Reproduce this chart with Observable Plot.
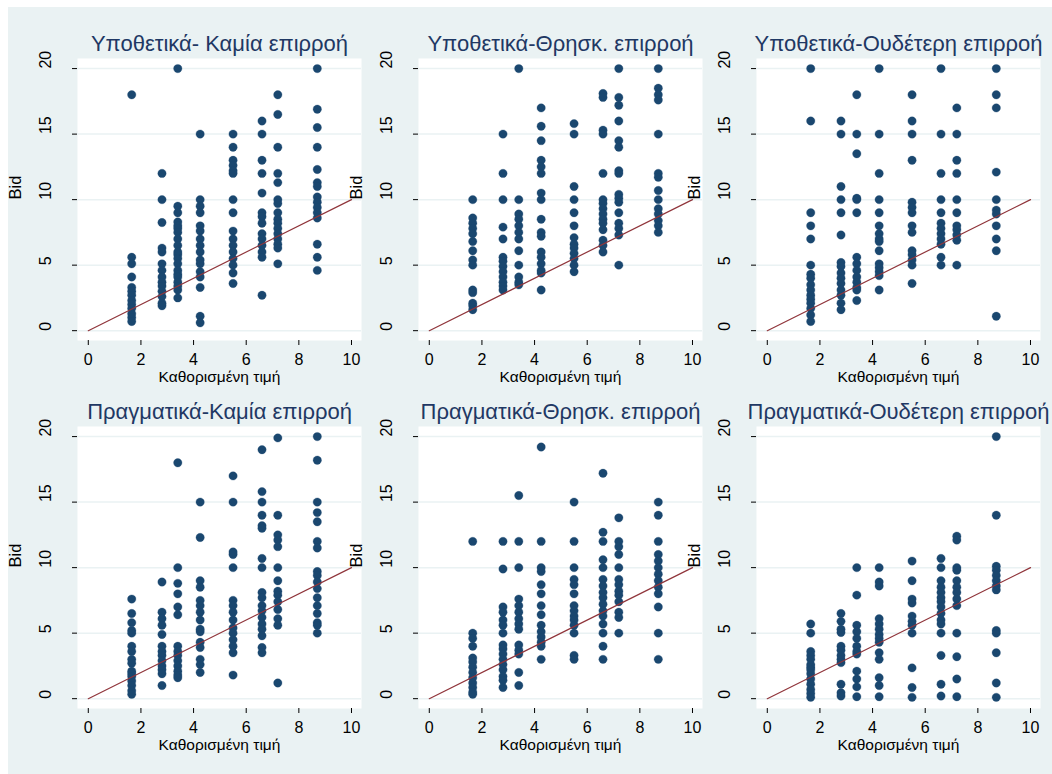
<!DOCTYPE html>
<html>
<head>
<meta charset="utf-8">
<script src="https://cdn.jsdelivr.net/npm/d3@7"></script>
<script src="https://cdn.jsdelivr.net/npm/@observablehq/plot@0.6"></script>
<style>
  html, body { margin: 0; padding: 0; background: #ffffff; }
  #page { position: relative; width: 1052px; height: 774px; overflow: hidden; }
  #bg { position: absolute; left: 8px; top: 7px; width: 1044px; height: 767px; background: #EAF2F3; }
  .panel { position: absolute; }
</style>
</head>
<body>
<div id="page"><div id="bg"></div></div>
<script>
// ---- Data ----
const xValues = [1.65, 2.8, 3.4, 4.25, 5.5, 6.6, 7.2, 8.7];
const xTicks = [0, 2, 4, 6, 8, 10];
const yTicks = [0, 5, 10, 15, 20];
const refLine = [0, 10];
const xTitle = "Καθορισμένη τιμή";
const yTitle = "Bid";
const panelTitles = [
  "Υποθετικά- Καμία επιρροή",
  "Υποθετικά-Θρησκ. επιρροή",
  "Υποθετικά-Ουδέτερη επιρροή",
  "Πραγματικά-Καμία επιρροή",
  "Πραγματικά-Θρησκ. επιρροή",
  "Πραγματικά-Ουδέτερη επιρροή"
];

// bids per x value (one inner list per x in xValues)
const hypNone = [
  [18, 5.6, 5.1, 4.1, 3.3, 3.0, 2.7, 2.3, 2.0, 1.7, 1.3, 1.0, 0.7],
  [12, 10, 8.25, 6.3, 6.0, 5.1, 4.6, 4.1, 3.7, 3.4, 3.0, 2.6, 2.1, 1.9],
  [20, 9.5, 9, 8.3, 8, 7.8, 7.5, 7, 6.5, 6, 5.8, 5.5, 5.1, 4.6, 4.3, 4.1, 3.7, 3.4, 3.1, 2.5],
  [15, 10, 9.5, 9, 8, 7.6, 7, 6.5, 6, 5.4, 5.1, 4.5, 4.1, 3.3, 1.1, 0.6],
  [15, 14, 13, 12.6, 12.2, 12, 10, 9, 7.6, 7, 6.5, 6, 5.5, 5.0, 4.4, 3.6],
  [16, 15, 13, 12, 10.5, 9, 8.7, 8.2, 7.4, 7, 6.5, 6, 5.6, 2.7],
  [18, 16.5, 14, 12, 11.3, 10, 9.7, 9, 8.5, 8.2, 7.8, 7.4, 7, 6.6, 6.3, 5.1],
  [20, 16.9, 15.5, 14, 12.3, 11.3, 11, 10.2, 9.8, 9.4, 9, 8.6, 6.6, 5.6, 4.6]
];
const hypRel = [
  [10, 8.6, 8.2, 7.8, 7.4, 6.8, 6.1, 5.4, 5.0, 3.1, 2.9, 2.1, 1.9, 1.6],
  [15, 12, 10, 7.9, 7.0, 5.6, 5.3, 4.9, 4.5, 4.1, 3.7, 3.4, 3.1],
  [20, 10, 8.9, 8.5, 8.0, 7.5, 7.0, 6.1, 5.0, 4.1, 3.7, 3.5],
  [17, 15.6, 14.5, 13, 12.5, 12, 10.5, 10, 8.5, 7.5, 7.2, 6.0, 5.6, 5.1, 4.6, 4.4, 3.1],
  [15.8, 15, 11, 10, 9, 8, 7.1, 6.6, 6.3, 5.9, 5.5, 5.0, 4.5],
  [18.1, 17.8, 15.3, 15, 12, 10, 9.7, 9.3, 8.9, 8.5, 8.2, 7.7, 6.9, 6.5, 6.0],
  [20, 17.8, 17.2, 16, 14.5, 14, 12.2, 12, 10.4, 10.1, 9.8, 9, 8.2, 7.8, 7.3, 5.0],
  [20, 18.5, 18, 17.6, 15, 12, 11.7, 10.7, 10, 9.3, 8.9, 8.4, 8.0, 7.5]
];
const hypNeu = [
  [20, 16, 9, 8, 7, 5, 4.3, 4.0, 3.5, 3.1, 2.7, 2.4, 2.1, 1.7, 1.2, 0.7],
  [16, 15, 11, 10, 9, 7.3, 5.2, 4.9, 4.4, 4.0, 3.6, 3.1, 2.7, 2.1, 1.6],
  [18, 15, 13.5, 10.1, 10, 9, 5.6, 5.1, 4.6, 4.1, 3.7, 3.3, 3.1, 2.3],
  [20, 15, 12, 10, 9, 8, 7.4, 7.0, 6.8, 6.1, 5.1, 4.8, 4.5, 4.2, 3.1],
  [18, 16, 15, 13, 9.8, 9.4, 9, 8, 7.5, 6.1, 5.8, 5.4, 5.0, 3.6],
  [20, 15, 12, 10, 9, 8.2, 7.8, 7.4, 7.0, 6.6, 5.6, 5.0],
  [17, 15, 13, 12, 10, 9, 8, 7.7, 7.3, 6.9, 5.0],
  [20, 18, 17, 12.1, 10, 9.2, 8.9, 8, 7, 6.1, 1.1]
];
const realNone = [
  [7.6, 6.5, 5.8, 5.2, 5.0, 4.0, 3.6, 3.0, 2.7, 2.1, 1.9, 1.7, 1.35, 1.0, 0.6, 0.33],
  [8.9, 6.6, 6.1, 5.6, 4.9, 4.0, 3.6, 3.3, 2.9, 2.5, 2.2, 1.9, 1.0],
  [18, 10, 8.8, 8.0, 7.0, 6.4, 4.0, 3.6, 3.3, 2.9, 2.5, 2.1, 1.8, 1.6],
  [15, 12.3, 9, 8.5, 7.5, 7.1, 6.6, 6.0, 5.3, 5.1, 4.3, 3.9, 3.0, 2.6, 2.0],
  [17, 15, 11.2, 11, 10, 7.5, 7.1, 6.6, 6.0, 5.4, 5.0, 4.5, 4.0, 3.5, 1.8],
  [19, 15.8, 15, 14, 13.2, 13, 10.7, 10, 8.1, 7.7, 7.1, 6.7, 6.2, 5.7, 5.3, 4.8, 3.9, 3.5],
  [19.9, 14, 12.5, 12.1, 11.6, 10, 9, 8.2, 7.9, 7.4, 6.8, 6.1, 5.6, 1.2],
  [20, 18.2, 15, 14.2, 13.5, 12, 11.5, 9.7, 9.4, 8.9, 8.4, 7.7, 7.1, 6.5, 5.8, 5.6, 5.0]
];
const realRel = [
  [12, 5.0, 4.6, 4.0, 3.1, 2.8, 2.4, 2.0, 1.6, 1.2, 0.85, 0.5, 0.33],
  [12, 9.9, 7.0, 6.6, 6.0, 5.6, 5.0, 4.1, 3.8, 3.4, 3.0, 2.6, 2.2, 1.7, 1.4, 0.85],
  [15.5, 12, 10, 7.6, 7.1, 6.6, 6.1, 5.7, 5.3, 4.1, 3.7, 3.4, 2.0, 1.0],
  [19.2, 12, 10, 9.7, 8.7, 8.0, 7.1, 6.4, 5.6, 5.1, 4.7, 4.3, 4.0, 3.0],
  [15, 12, 10, 9.1, 8.7, 8.0, 7.1, 6.7, 6.3, 6.0, 5.6, 5.0, 3.3, 3.0],
  [17.2, 12.7, 12, 10.6, 10, 9.1, 8.6, 8.1, 7.7, 7.2, 6.7, 6.3, 5.7, 5.0, 4.0, 3.0],
  [13.8, 12, 11.6, 11, 10, 9.1, 8.7, 8.2, 7.9, 7.4, 6.6, 6.2, 5.0],
  [15, 14, 12, 11, 10.5, 10, 9.5, 9, 8.5, 8.0, 7.0, 5.0, 3.0]
];
const realNeu = [
  [5.7, 5.0, 3.6, 3.3, 3.0, 2.6, 2.4, 2.2, 1.9, 1.5, 1.1, 0.7, 0.4, 0.1],
  [6.5, 5.9, 5.3, 5.05, 4.0, 3.7, 3.3, 3.0, 2.75, 1.1, 0.45, 0.2],
  [10, 7.9, 5.6, 5.1, 4.6, 4.0, 3.6, 3.4, 2.1, 1.5, 0.9, 0.15],
  [10, 8.9, 8.6, 6.1, 5.7, 5.3, 4.9, 4.6, 4.3, 3.5, 3.0, 1.6, 1.0, 0.15],
  [10.5, 9.0, 7.6, 7.3, 6.3, 5.9, 5.6, 5.0, 2.35, 0.85, 0.1],
  [10.7, 10, 9, 8.5, 8.1, 7.7, 7.4, 7.0, 6.5, 6.0, 5.7, 5.0, 3.3, 1.1, 0.2],
  [12.4, 12.1, 10, 9.8, 9.0, 8.5, 8.1, 7.6, 7.1, 5.0, 3.2, 1.5, 0.15],
  [20, 14, 10.1, 9.8, 9.4, 9.0, 8.6, 8.3, 5.2, 5.0, 3.5, 1.2, 0.1]
];

const panelData = [hypNone, hypRel, hypNeu, realNone, realRel, realNeu];

// ---- Layout ----
const frameLefts = [77, 418, 756];
const frameTops = [58, 426];
const FW = 284, FH = 282;
const ML = 75, MR = 8, MT = 40, MB = 50;

const FONT = "'Liberation Sans', Arial, Helvetica, sans-serif";
const page = document.getElementById("page");

panelData.forEach((groups, i) => {
  const col = i % 3, row = Math.floor(i / 3);
  const pts = xValues.flatMap((x, j) => groups[j].map(y => ({x, y})));
  const chart = Plot.plot({
    width: ML + FW + MR,
    height: MT + FH + MB,
    marginLeft: ML, marginRight: MR, marginTop: MT, marginBottom: MB,
    x: {domain: [-0.41, 10.38]},
    y: {domain: [-0.75, 20.77]},
    style: {fontFamily: FONT, fontSize: "16px", background: "transparent", color: "#000", overflow: "visible"},
    marks: [
      Plot.frame({fill: "#ffffff", stroke: null}),
      Plot.gridY(yTicks, {stroke: "#EAF2F3", strokeOpacity: 1, strokeWidth: 1.5}),
      Plot.dot(pts, {x: "x", y: "y", r: 4.2, fill: "#1a476f", stroke: "#1a476f", strokeWidth: 0.3}),
      Plot.line(refLine, {x: d => d, y: d => d, stroke: "#90353b", strokeWidth: 1.2}),
      Plot.axisX(xTicks, {tickSize: 5, tickFormat: () => "", label: null, line: true, stroke: "#000"}),
      Plot.axisY(yTicks, {tickSize: 5, tickFormat: () => "", label: null, line: true, stroke: "#000"}),
      Plot.text(xTicks, {x: d => d, frameAnchor: "bottom", dy: 19, fontSize: 16, lineAnchor: "middle", fill: "#000"}),
      Plot.text(yTicks, {y: d => d, frameAnchor: "left", dx: -32, rotate: -90, fontSize: 16, lineAnchor: "middle", fill: "#000"}),
      Plot.text([xTitle], {frameAnchor: "bottom", dy: 37, fontSize: 15.5, lineAnchor: "middle", fill: "#000"}),
      Plot.text([yTitle], {frameAnchor: "left", dx: -62, rotate: -90, fontSize: 16.5, lineAnchor: "middle", fill: "#000"}),
      Plot.text([panelTitles[i]], {frameAnchor: "top", dy: -15, fontSize: 22, lineAnchor: "middle", fill: "#1f3864"})
    ]
  });
  chart.classList.add("panel");
  chart.style.left = (frameLefts[col] - ML) + "px";
  chart.style.top = (frameTops[row] - MT) + "px";
  page.appendChild(chart);
});
</script>
</body>
</html>
